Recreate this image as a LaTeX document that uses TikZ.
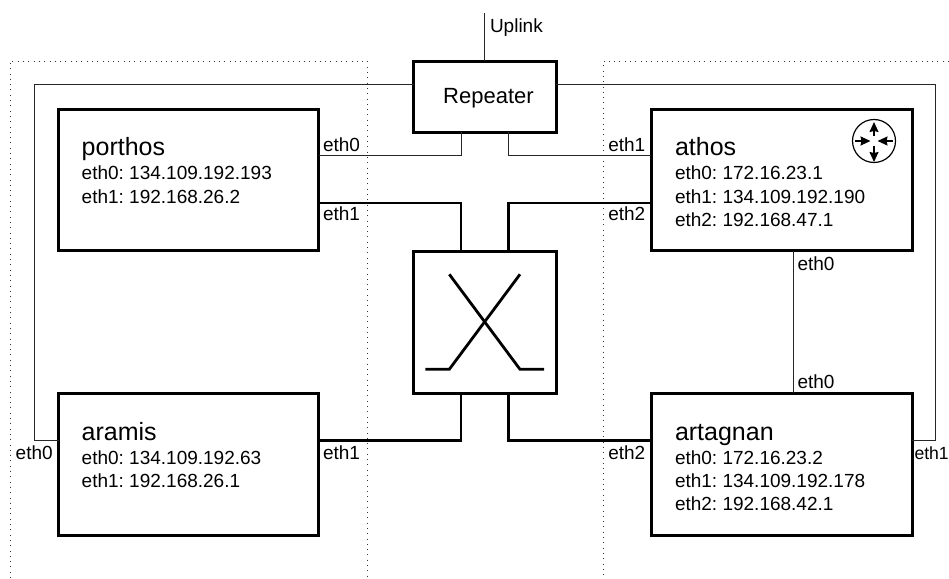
\documentclass[tikz,border=0pt]{standalone}
\usepackage{fontspec}
\setmainfont{Liberation Sans}
\frenchspacing
\usetikzlibrary{arrows.meta,calc}
\tikzset{
  box/.style={draw=black,line width=3pt,fill=white,rectangle,inner sep=0pt,outer sep=0pt},
  thinlink/.style={draw=black!85,line width=1pt},
  thicklink/.style={draw=black,line width=2.8pt,line join=miter},
  zone/.style={draw=black!80,line width=1pt,dash pattern=on 1pt off 4.3pt},
  title/.style={anchor=base west,inner sep=0pt,outer sep=0pt,font=\fontsize{25}{25}\selectfont},
  info/.style={anchor=base west,inner sep=0pt,outer sep=0pt,font=\fontsize{19}{19}\selectfont},
  port/.style={anchor=base west,inner sep=0pt,outer sep=0pt,font=\fontsize{19}{19}\selectfont},
  cross/.style={line width=2.8pt,draw=black},
  flow/.style={line width=1.4pt,-{Stealth[length=10pt,width=9pt,inset=1pt]}}
}
\begin{document}
\begin{tikzpicture}[x=1pt,y=-1pt]
\useasboundingbox (0,0) rectangle (949,578);
% dotted zones
\draw[zone] (10,578) -- (10,61) -- (367,61) -- (367,578);
\draw[zone] (949,61) -- (603.5,61) -- (603.5,578);
% helper coordinates
\coordinate (xl) at (461,0);
\coordinate (xr) at (508.5,0);
\coordinate (xv) at (793,0);
\coordinate (xol) at (34,0);
\coordinate (xor) at (935.7,0);
\coordinate (ytop) at (0,84);
\coordinate (yrep) at (0,155.7);
\coordinate (ysw) at (0,203);
\coordinate (ylow) at (0,440.7);
\coordinate (up) at (484.5,13.5);
% boxes
\node[box,minimum width=142.5pt,minimum height=71pt] (rep) at (484.75,96.5) {};
\node[box,minimum width=142.5pt,minimum height=142pt] (sw) at (484.75,322) {};
\node[box,minimum width=260pt,minimum height=141.5pt] (porthos) at (188.5,179.75) {};
\node[box,minimum width=260pt,minimum height=142pt] (aramis) at (188.5,464) {};
\node[box,minimum width=261pt,minimum height=141.5pt] (athos) at (781.5,179.75) {};
\node[box,minimum width=261pt,minimum height=142pt] (artagnan) at (781.5,464) {};
% thin links
\draw[thinlink] (up) -- (up |- rep.north);
\draw[thinlink] (rep.west |- ytop) -- (xol |- ytop) -- (xol |- ylow) -- (aramis.west |- ylow);
\draw[thinlink] (rep.east |- ytop) -- (xor |- ytop) -- (xor |- ylow) -- (artagnan.east |- ylow);
\draw[thinlink] (rep.south -| xl) |- (porthos.east |- yrep);
\draw[thinlink] (rep.south -| xr) |- (athos.west |- yrep);
\draw[thinlink] (athos.south -| xv) -- (artagnan.north -| xv);
% thick links
\draw[thicklink] (porthos.east |- ysw) -| (sw.north -| xl);
\draw[thicklink] (athos.west |- ysw) -| (sw.north -| xr);
\draw[thicklink] (aramis.east |- ylow) -| (sw.south -| xl);
\draw[thicklink] (artagnan.west |- ylow) -| (sw.south -| xr);
% switch symbol
\draw[cross] (449.3,274.3) -- (520,369.3) -- (544,369.3);
\draw[cross] (520,274.3) -- (449.3,369.3) -- (425.3,369.3);
% router symbol
\node[circle,draw=black,line width=1.2pt,minimum size=43pt,inner sep=0pt,outer sep=0pt,fill=white] (router) at (874,141) {};
\draw[flow] (874,136) -- (874,122);
\draw[flow] (874,146) -- (874,162);
\draw[flow] (855,141) -- (870.5,141);
\draw[flow] (893,141) -- (877.5,141);
% texts
\node[anchor=base west,inner sep=0pt,font=\fontsize{22}{22}\selectfont] (reptext) at (443,103.3) {Repeater};
\node[port] (uplink) at (490,33) {Uplink};
\node[title] (t1) at (81.7,155.2) {porthos};
\node[info] (t1a) at (81.7,179.8) {eth0: 134.109.192.193};
\node[info] (t1b) at (81.7,203) {eth1: 192.168.26.2};
\node[title] (t2) at (81.7,440.7) {aramis};
\node[info] (t2a) at (81.7,464) {eth0: 134.109.192.63};
\node[info] (t2b) at (81.7,487.3) {eth1: 192.168.26.1};
\node[title] (t3) at (675,155.2) {athos};
\node[info] (t3a) at (675,179.8) {eth0: 172.16.23.1};
\node[info] (t3b) at (675,203) {eth1: 134.109.192.190};
\node[info] (t3c) at (675,226.5) {eth2: 192.168.47.1};
\node[title] (t4) at (675,440.7) {artagnan};
\node[info] (t4a) at (675,464) {eth0: 172.16.23.2};
\node[info] (t4b) at (675,487.3) {eth1: 134.109.192.178};
\node[info] (t4c) at (675,510.7) {eth2: 192.168.42.1};
% port labels
\node[port] (p1) at (323,151) {eth0};
\node[port] (p2) at (323,220) {eth1};
\node[port] (p3) at (608.3,151) {eth1};
\node[port] (p4) at (608.3,220) {eth2};
\node[port] (p5) at (323,459.3) {eth1};
\node[port] (p6) at (608.3,459.3) {eth2};
\node[port] (p7) at (15.7,459.3) {eth0};
\node[port,font=\fontsize{17.6}{17.6}\selectfont] (p8) at (914.5,459.3) {eth1};
\node[port] (p9) at (797.5,270) {eth0};
\node[port] (p10) at (797.5,388.3) {eth0};
\end{tikzpicture}
\end{document}
